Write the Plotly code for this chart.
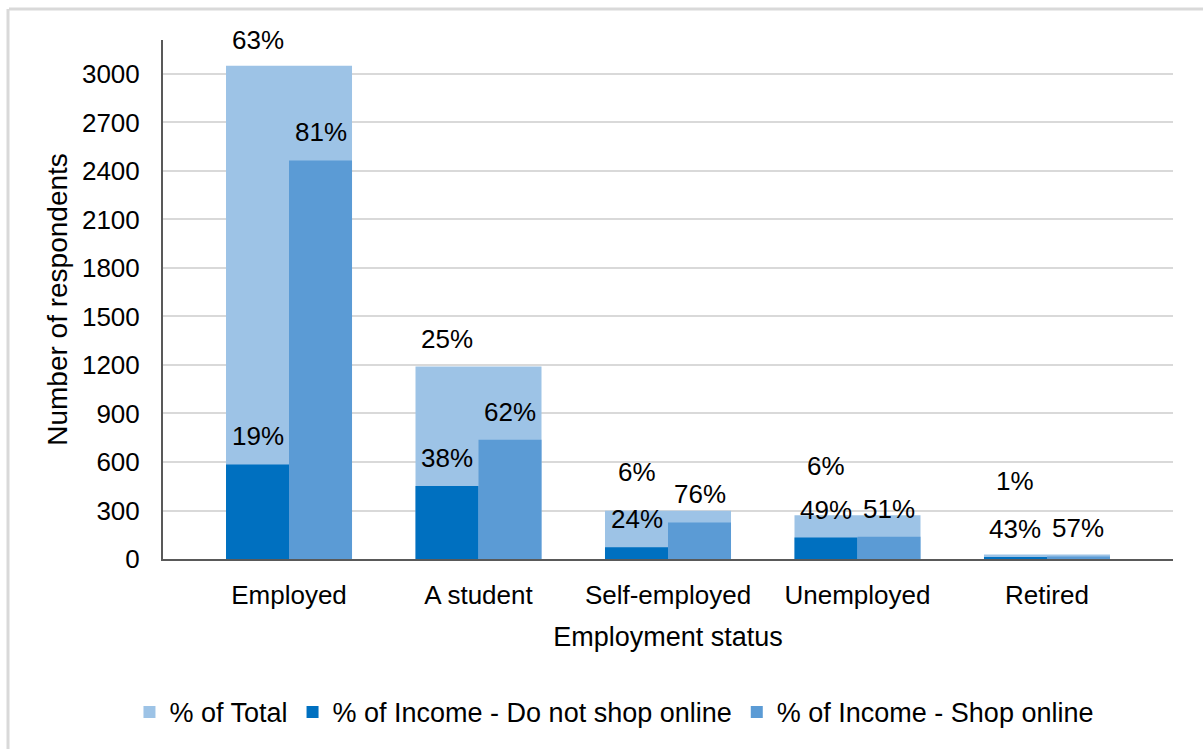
import plotly.graph_objects as go

# Respondents by employment status
categories = ["Employed", "A student", "Self-employed", "Unemployed", "Retired"]
total_counts = [3050, 1190, 298, 271, 28]
no_shop_counts = [585, 452, 72, 133, 12]
shop_counts = [2465, 738, 226, 138, 16]

total_pct = ["63%", "25%", "6%", "6%", "1%"]
no_shop_pct = ["19%", "38%", "24%", "49%", "43%"]
shop_pct = ["81%", "62%", "76%", "51%", "57%"]

y_ticks = [0, 300, 600, 900, 1200, 1500, 1800, 2100, 2400, 2700, 3000]

# label lift above each total bar (px), to keep labels clear of each other
total_label_lift = [26, 28, 39, 49, 73]

LIGHT = "#9dc3e6"
DARK = "#0070c0"
MID = "#5b9bd5"
FONT = "Liberation Sans, Arial, sans-serif"
FS = 26

xs = list(range(len(categories)))
group_w = 0.665
half_w = group_w / 2

fig = go.Figure()
fig.add_trace(go.Bar(
    x=xs, y=total_counts, width=group_w, name="% of Total",
    marker=dict(color=LIGHT, line=dict(width=0)), hoverinfo="y",
))
fig.add_trace(go.Bar(
    x=[x - half_w / 2 for x in xs], y=no_shop_counts, width=half_w,
    name="% of Income - Do not shop online",
    marker=dict(color=DARK, line=dict(width=0)), hoverinfo="y",
))
fig.add_trace(go.Bar(
    x=[x + half_w / 2 for x in xs], y=shop_counts, width=half_w,
    name="% of Income - Shop online",
    marker=dict(color=MID, line=dict(width=0)), hoverinfo="y",
))

annotations = []
for i, x in enumerate(xs):
    left = x - half_w / 2
    right = x + half_w / 2
    annotations.append(dict(x=left, y=total_counts[i], text=total_pct[i],
                            yshift=total_label_lift[i]))
    annotations.append(dict(x=left, y=no_shop_counts[i], text=no_shop_pct[i],
                            yshift=28))
    annotations.append(dict(x=right, y=shop_counts[i], text=shop_pct[i],
                            yshift=28))
for a in annotations:
    a.update(xref="x", yref="y", showarrow=False, yanchor="middle",
             xanchor="center", font=dict(family=FONT, size=FS, color="#000000"))

# light frame around the chart area
frame = dict(color="#d9d9d9", width=3)
shapes = [
    dict(type="line", xref="paper", yref="paper",
         x0=(9 - 163) / 1010, x1=(1210 - 163) / 1010,
         y0=(561 - 9) / 521, y1=(561 - 9) / 521, line=frame),
    dict(type="line", xref="paper", yref="paper",
         x0=(8 - 163) / 1010, x1=(8 - 163) / 1010,
         y0=(561 - 9) / 521, y1=(561 - 760) / 521, line=frame),
]

fig.update_layout(
    width=1203, height=749,
    margin=dict(l=163, r=30, t=40, b=188),
    paper_bgcolor="white", plot_bgcolor="white",
    barmode="overlay",
    font=dict(family=FONT, size=FS, color="#000000"),
    annotations=annotations,
    shapes=shapes,
    showlegend=True,
    legend=dict(orientation="h", x=0.4465, xanchor="center",
                y=(561 - 715) / 521, yanchor="middle",
                font=dict(family=FONT, size=27, color="#000000"),
                traceorder="normal", itemclick=False),
    xaxis=dict(
        range=[-group_w, len(categories) - 1 + group_w],
        tickmode="array", tickvals=xs, ticktext=categories,
        showgrid=False, zeroline=False,
        showline=True, linecolor="#595959", linewidth=2,
        ticks="", ticklabelstandoff=12,
        title=dict(text="Employment status", standoff=18,
                   font=dict(family=FONT, size=27)),
    ),
    yaxis=dict(
        range=[0, 3210],
        tickmode="array", tickvals=y_ticks,
        showgrid=True, gridcolor="#d9d9d9", gridwidth=1.5,
        zeroline=False,
        showline=True, linecolor="#595959", linewidth=2,
        ticks="", ticklabelstandoff=16,
        title=dict(text="Number of respondents", standoff=6,
                   font=dict(family=FONT, size=28)),
    ),
)

fig.write_html("out.html")
